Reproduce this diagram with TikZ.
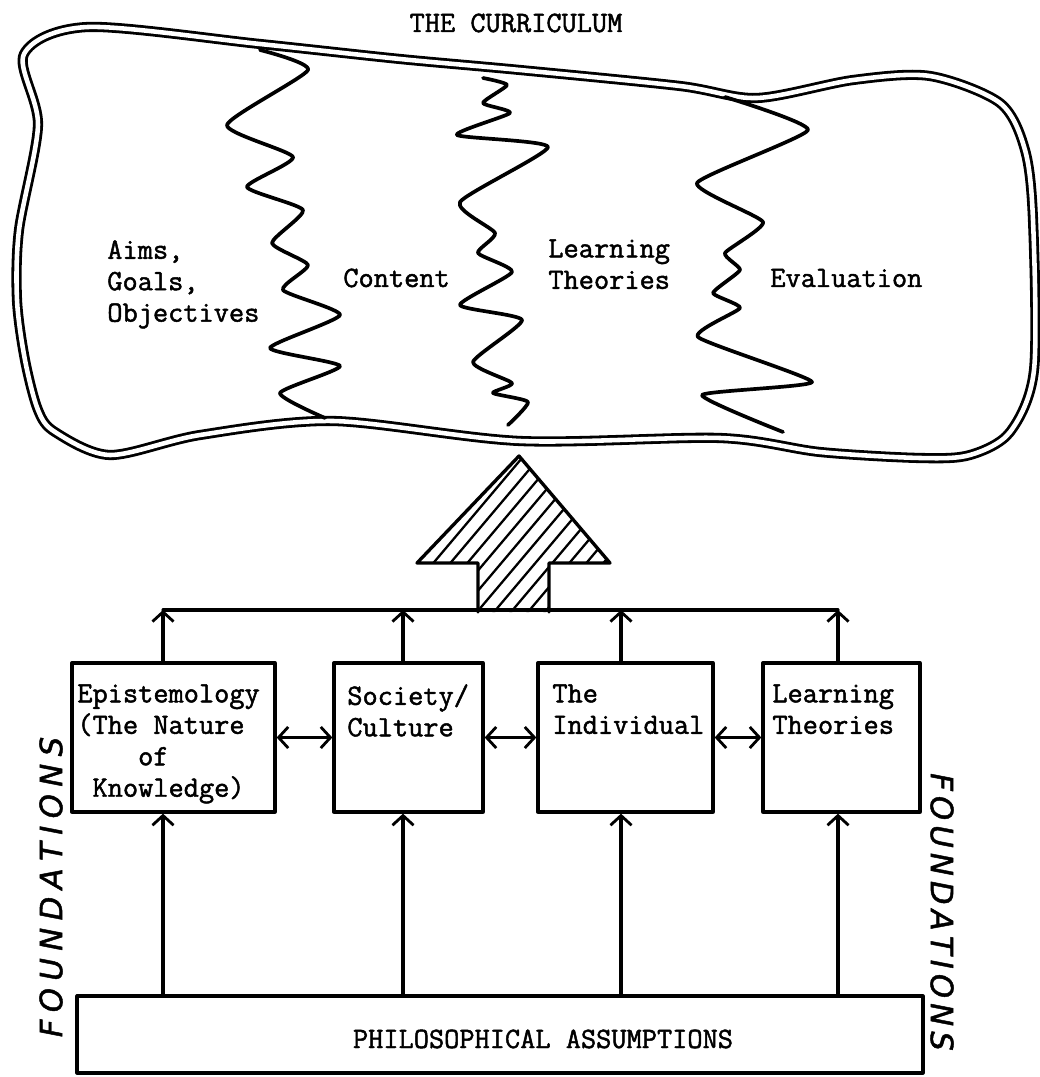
\documentclass[tikz,border=0pt]{standalone}
\usepackage{fontspec}
\setmonofont[FakeBold=1.6]{Latin Modern Mono}
\newfontfamily\handfont[FakeBold=1.5]{DejaVu Sans}
\usetikzlibrary{arrows.meta}
\newcommand\fndword[1]{F\kern#1 O\kern#1 U\kern#1 N\kern#1 D\kern#1 A\kern#1 T\kern#1 I\kern#1 O\kern#1 N\kern#1 S}
\begin{document}
\begin{tikzpicture}[x=0.02cm,y=-0.02cm,line join=round,line cap=round,
  tw/.style={font=\fontsize{16.8}{17.9}\selectfont\ttfamily,inner sep=0pt,align=left},
  hand/.style={font=\fontsize{17.5}{18}\selectfont\handfont\itshape,inner sep=0pt},
  box/.style={draw,line width=1.9pt,inner sep=0pt},
  conn/.style={line width=1.8pt},
  barb/.tip={Straight Barb[length=5.5pt,width=12pt,line width=1.6pt]},
  cloud/.style={double,line width=1.6pt,double distance=2.6pt},
  zig/.style={line width=2.1pt},
  hatch/.style={line width=1.3pt}]
\useasboundingbox (0,0) rectangle (1039,1077);
\fill[white] (0,0) rectangle (1039,1077);

% title
\node[tw,anchor=base] (title) at (516,32) {THE CURRICULUM};

% cloud
\draw[cloud] plot[smooth cycle,tension=0.5] coordinates {
 (24,54) (88,27) (260,44) (400,59) (520,70) (680,86) (757,98) (853,80) (930,76)
 (1000,103) (1025,150) (1033,220) (1034,370) (1010,432) (970,455) (920,458)
 (820,452) (720,438) (520,441) (333,421) (200,435) (110,455) (55,432) (38,410)
 (25,360) (17,300) (19,230) (38,125)};

% zigzag dividers
\draw[zig] plot[smooth,tension=0.35] coordinates {
 (260,50) (308,70) (227,125) (293,157) (247,187) (303,210) (272,243) (308,265)
 (283,290) (340,315) (270,348) (340,366) (280,393) (325,418)};
\draw[zig] plot[smooth,tension=0.35] coordinates {
 (483,78) (507,85) (483,103) (510,113) (457,135) (548,147) (460,202) (495,233)
 (478,253) (512,272) (460,305) (522,320) (473,362) (512,383) (493,393) (528,402) (508,425)};
\draw[zig] plot[smooth,tension=0.3] coordinates {
 (725,97) (808,130) (697,183) (763,222) (725,253) (740,270) (713,293) (740,308)
 (698,337) (812,382) (702,395) (783,432)};

% cloud texts
\node[tw,anchor=north west] (aims) at (107,240) {Aims,\\Goals,\\Objectives};
\node[tw,anchor=base west] (content) at (343,287) {Content};
\node[tw,anchor=north west] (learn) at (548,239) {Learning\\Theories};
\node[tw,anchor=base west] (eval) at (770,287) {Evaluation};

% hatched arrow
\coordinate (h1) at (478,612);
\coordinate (h2) at (478,563);
\coordinate (h3) at (417,563);
\coordinate (h4) at (519,456);
\coordinate (h5) at (610,563);
\coordinate (h6) at (549,563);
\coordinate (h7) at (549,612);
\begin{scope}
 \clip (h1) -- (h2) -- (h3) -- (h4) -- (h5) -- (h6) -- (h7) -- cycle;
 \foreach \i in {0,...,22} {
   \draw[hatch] (262+17*\i,625) -- ++(190,-225);
 }
\end{scope}
\draw[line width=1.9pt] (h1) -- (h2) -- (h3) -- (h4) -- (h5) -- (h6) -- (h7);

% boxes
\node[box,minimum width=4.06cm,minimum height=2.98cm] (b1) at (173.5,737.5) {};
\node[box,minimum width=2.98cm,minimum height=2.98cm] (b2) at (408.5,737.5) {};
\node[box,minimum width=3.5cm,minimum height=2.98cm] (b3) at (625.5,737.5) {};
\node[box,minimum width=3.14cm,minimum height=2.98cm] (b4) at (841.5,737.5) {};
\node[box,minimum width=16.92cm,minimum height=1.54cm] (phil) at (500,1034.5) {};

\node[tw,anchor=north west] (t1) at (77,684) {Epistemology\\(The Nature\\\hphantom{(The}of\\\hphantom{(}Knowledge)};
\node[tw,anchor=north west] (t2) at (347,684) {Society/\\Culture};
\node[tw,anchor=north west] (t3) at (552,684) {The\\Individual};
\node[tw,anchor=north west] (t4) at (772,684) {Learning\\Theories};
\node[tw,anchor=base] (t5) at (543,1048) {PHILOSOPHICAL ASSUMPTIONS};

% connector columns
\coordinate (c1) at (163,0);
\coordinate (c2) at (403,0);
\coordinate (c3) at (621,0);
\coordinate (c4) at (838,0);
\coordinate (bus) at (0,610);

\draw[conn] (c1 |- bus) -- (c4 |- bus);
\foreach \c/\b in {c1/b1,c2/b2,c3/b3,c4/b4} {
  \draw[conn,-barb] (\c |- \b.north) -- (\c |- bus);
  \draw[conn,-barb] (\c |- phil.north) -- (\c |- \b.south);
}
\draw[conn,barb-barb] (b1.east) -- (b2.west);
\draw[conn,barb-barb] (b2.east) -- (b3.west);
\draw[conn,barb-barb] (b3.east) -- (b4.west);

% FOUNDATIONS
\node[hand,rotate=90] (fl) at (51,887) {\fndword{4.2pt}};
\node[hand,rotate=-90] (fr) at (942,912) {\fndword{2.9pt}};
\end{tikzpicture}
\end{document}
